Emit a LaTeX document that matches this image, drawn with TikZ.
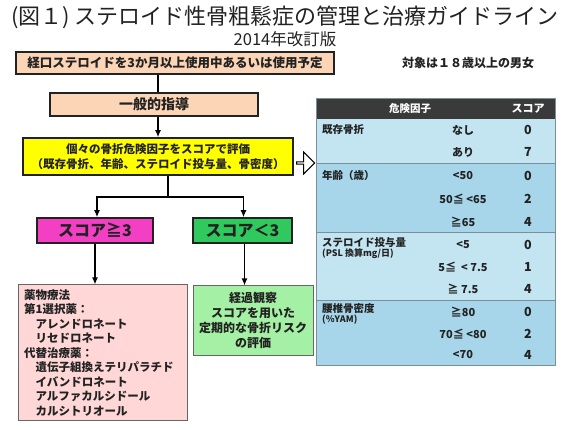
\documentclass[tikz,border=0pt]{standalone}
\usepackage{fontspec}
\setmainfont{Noto Sans CJK JP}
\usetikzlibrary{shapes.arrows,arrows.meta}
\definecolor{peach}{HTML}{FBD5B5}
\definecolor{ylw}{HTML}{FFFF00}
\definecolor{mag}{HTML}{F23FC4}
\definecolor{grn}{HTML}{2FC95E}
\definecolor{lpink}{HTML}{FFD7D7}
\definecolor{lgreen}{HTML}{A4F0A4}
\definecolor{hdr}{HTML}{3A3A3A}
\definecolor{tbA}{HTML}{C3E5F2}
\definecolor{tbB}{HTML}{A7D6EA}
\definecolor{sep}{HTML}{7C8E98}
\definecolor{txt}{HTML}{222222}
\tikzset{
  box/.style={draw=txt, rectangle, inner sep=0pt, text=txt, font=\bfseries},
  conn/.style={draw=black, line width=1.5pt},
  arr/.style={conn, -{Latex[length=7pt,width=6pt]}},
  lbl/.style={inner sep=0pt, text=txt, font=\fontsize{10.5}{12}\selectfont\bfseries},
  val/.style={inner sep=0pt, text=txt, font=\fontsize{11}{12}\selectfont\bfseries},
  sc/.style={inner sep=0pt, text=txt, font=\fontsize{12.5}{12}\selectfont\bfseries}
}
\begin{document}
\begin{tikzpicture}[x=1pt,y=-1pt]
\useasboundingbox (0,0) rectangle (570,430);
\fill[white] (0,0) rectangle (570,430);

% titles
\node[inner sep=0pt, text=txt, font=\fontsize{22}{24}\selectfont] (title) at (285,17) {(図１) ステロイド性骨粗鬆症の管理と治療ガイドライン};
\node[inner sep=0pt, text=txt, font=\fontsize{16.5}{18}\selectfont] (sub) at (285,39) {2014年改訂版};
\node[inner sep=0pt, text=txt, font=\fontsize{12}{14}\selectfont\bfseries] (target) at (468,63) {対象は１８歳以上の男女};

% flow boxes
\node[box, fill=peach, line width=1.8pt, minimum width=318pt, minimum height=22pt, font=\fontsize{12.5}{14}\selectfont\bfseries] (b1) at (175,63) {経口ステロイドを3か月以上使用中あるいは使用予定};
\node[box, fill=peach, line width=1.8pt, minimum width=208pt, minimum height=23pt, font=\fontsize{14}{16}\selectfont\bfseries] (b2) at (154,104.5) {一般的指導};
\node[box, fill=ylw, line width=1.5pt, minimum width=270pt, minimum height=37pt, align=center, font=\fontsize{11.5}{15}\selectfont\bfseries] (b3) at (158,156.5) {個々の骨折危険因子をスコアで評価\\（既存骨折、年齢、ステロイド投与量、骨密度）};
\node[box, fill=mag, line width=1.5pt, minimum width=116pt, minimum height=25pt, font=\fontsize{16}{18}\selectfont\bfseries] (s1) at (95,230.5) {スコア≧3};
\node[box, fill=grn, line width=1.5pt, minimum width=99pt, minimum height=25pt, font=\fontsize{16}{18}\selectfont\bfseries] (s2) at (242.5,230.5) {スコア＜3};
\node[box, draw=gray!80!black, fill=lpink, line width=1pt, minimum width=169pt, minimum height=135pt, align=left, text width=157pt, font=\fontsize{11.5}{14.5}\selectfont\bfseries] (p1) at (102.5,352.5) {薬物療法\\第1選択薬：\\\hspace*{1em}アレンドロネート\\\hspace*{1em}リセドロネート\\代替治療薬：\\\hspace*{1em}遺伝子組換えテリパラチド\\\hspace*{1em}イバンドロネート\\\hspace*{1em}アルファカルシドール\\\hspace*{1em}カルシトリオール};
\node[box, draw=gray!80!black, fill=lgreen, line width=1pt, minimum width=120pt, minimum height=69pt, align=center, font=\fontsize{12}{15}\selectfont\bfseries] (g1) at (253,320.5) {経過観察\\スコアを用いた\\定期的な骨折リスク\\の評価};

% connectors
\draw[conn] ([xshift=4pt]b2.north) -- ([xshift=4pt]b2.north |- b1.south);
\draw[arr] ([xshift=4pt]b2.south) -- (b3.north);
\coordinate (split) at (168,197);
\draw[conn] (b3.south -| split) -- (split);
\draw[arr] (split) -| ([xshift=2pt]s1.north);
\draw[arr] (split) -| ([xshift=1pt]s2.north);
\draw[arr] (s1.south) -- (s1.south |- p1.north);
\draw[arr] ([xshift=2pt]s2.south) -- ([xshift=2pt]s2.south |- g1.north);

% hollow arrow to table
\node[single arrow, draw=black, fill=white, line width=1pt, minimum height=18pt, minimum width=22pt, single arrow head extend=4pt, inner sep=0pt] (harrow) at (305,163) {};

% table
\fill[hdr] (316,98) rectangle (555,119);
\fill[tbA] (316,119) rectangle (555,164);
\fill[tbB] (316,164) rectangle (555,233);
\fill[tbA] (316,233) rectangle (555,300);
\fill[tbB] (316,300) rectangle (555,365);
\draw[sep, line width=1pt] (316,164) -- (555,164) (316,233) -- (555,233) (316,300) -- (555,300);
\draw[sep, line width=0.8pt] (316,98) rectangle (555,365);

\node[lbl, text=white, font=\fontsize{10.5}{12}\selectfont\bfseries] (h1) at (410,108.5) {危険因子};
\node[lbl, text=white, font=\fontsize{11}{12}\selectfont\bfseries] (h2) at (528,108.5) {スコア};

\node[lbl, anchor=west] (r1) at (322,130) {既存骨折};
\node[lbl, anchor=west] (r2) at (322,176) {年齢（歳）};
\node[lbl, anchor=west] (r3) at (322,243) {ステロイド投与量};
\node[lbl, anchor=west, font=\fontsize{9}{10}\selectfont\bfseries] (r3b) at (322,254) {(PSL 換算mg/日)};
\node[lbl, anchor=west] (r4) at (322,309) {腰椎骨密度};
\node[lbl, anchor=west, font=\fontsize{9}{10}\selectfont\bfseries] (r4b) at (322,320) {(\%YAM)};

\node[val] (v1) at (463,130) {なし};
\node[val] (v2) at (463,152) {あり};
\node[val] (v3) at (463,176) {<50};
\node[val] (v4) at (463,199) {50≦ <65};
\node[val] (v5) at (463,222) {≧65};
\node[val] (v6) at (463,245) {<5};
\node[val] (v7) at (463,267) {5≦ \ < 7.5};
\node[val] (v8) at (463,289) {≧ 7.5};
\node[val] (v9) at (463,312) {≧80};
\node[val] (v10) at (463,334) {70≦ <80};
\node[val] (v11) at (463,355) {<70};

\node[sc] (c1) at (528,130) {0};
\node[sc] (c2) at (528,152) {7};
\node[sc] (c3) at (528,176) {0};
\node[sc] (c4) at (528,199) {2};
\node[sc] (c5) at (528,222) {4};
\node[sc] (c6) at (528,245) {0};
\node[sc] (c7) at (528,267) {1};
\node[sc] (c8) at (528,289) {4};
\node[sc] (c9) at (528,312) {0};
\node[sc] (c10) at (528,334) {2};
\node[sc] (c11) at (528,355) {4};
\end{tikzpicture}
\end{document}
